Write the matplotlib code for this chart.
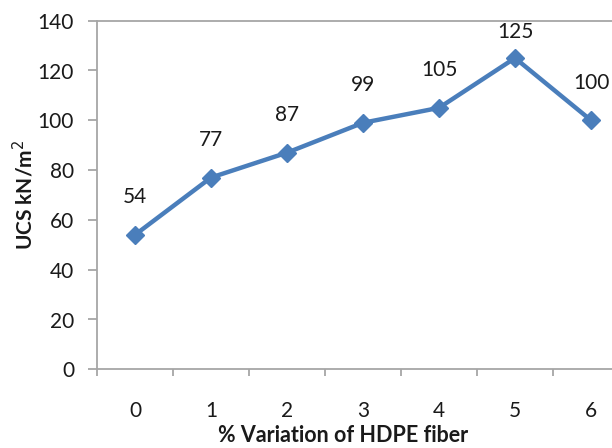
import numpy as np
import matplotlib.pyplot as plt

fiber_pct = [0, 1, 2, 3, 4, 5, 6]
ucs = [54, 77, 87, 99, 105, 125, 100]
# label lift above each point (points); the peak label sits lower under the top border
label_lift = [27, 27, 27, 27, 27, 19, 27]

plt.rcParams['font.family'] = ['Lato', 'DejaVu Sans']

fig = plt.figure(figsize=(6.12, 4.48), dpi=100)
ax = fig.add_axes([97 / 612, 78.7 / 448, 532 / 612, 348.6 / 448])

ax.plot(fiber_pct, ucs, color='#4a7ebb', lw=3.2, marker='D', ms=9.5, clip_on=False)
for x, y, dy in zip(fiber_pct, ucs, label_lift):
    ax.annotate(str(y), (x, y), xytext=(0, dy), textcoords='offset points',
                ha='center', va='center', fontsize=15, color='#1a1a1a')

ax.set_xlim(-0.5, 6.5)
ax.set_ylim(0, 140)
ax.set_yticks(np.arange(0, 141, 20))
ax.set_xticks(fiber_pct)
ax.set_xticks(np.arange(-0.5, 7, 1), minor=True)

grey = '#a6a6a6'
for side in ['left', 'bottom', 'top']:
    ax.spines[side].set_color(grey)
    ax.spines[side].set_linewidth(1.3)
ax.spines['right'].set_visible(False)

ax.tick_params(axis='y', direction='out', length=6.5, width=1.3, color=grey,
               labelsize=15, pad=10, labelcolor='#1a1a1a')
ax.tick_params(axis='x', which='major', length=0, labelsize=15, pad=23,
               labelcolor='#1a1a1a')
ax.tick_params(axis='x', which='minor', direction='out', length=5, width=1.3,
               color=grey)

fig.text(24 / 612, 1 - 195 / 448, 'UCS kN/m$^2$', rotation=90, fontsize=15,
         fontweight='bold', ha='center', va='center', color='#1a1a1a')
fig.text(343 / 612, 2 / 448, '% Variation of HDPE fiber', fontsize=15.5,
         fontweight='bold', ha='center', va='bottom', color='#1a1a1a')

fig.savefig('out.png', dpi=100)
